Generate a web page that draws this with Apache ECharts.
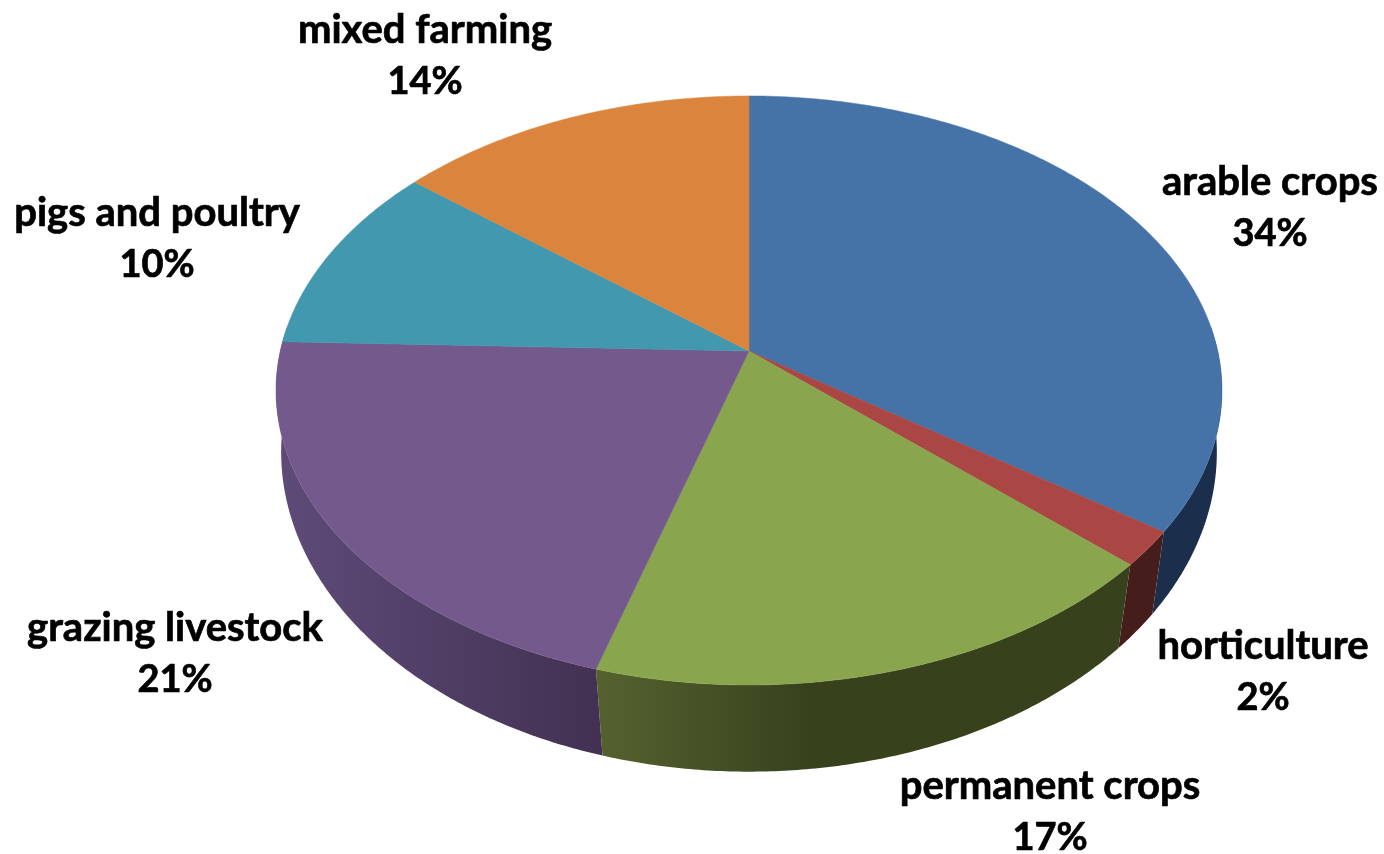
<!DOCTYPE html>
<html><head><meta charset="utf-8">
<style>html,body{margin:0;padding:0;background:#fff}#c{width:1384px;height:854px}</style>
<script src="https://cdn.jsdelivr.net/npm/echarts@6/dist/echarts.min.js"></script>
</head><body><div id="c"></div>
<script>
const categories = ['arable crops','horticulture','permanent crops','grazing livestock','pigs and poultry','mixed farming'];
const values = [34.1, 1.9, 17.5, 20.5, 10.2, 13.8];
const percentLabels = ['34%','2%','17%','21%','10%','14%'];

const topColors = ['#4572A7','#AA4643','#89A54E','#74598D','#4198AF','#DB843D'];
const wallColors = [['#1B2F4C','#1B2F4C'],['#451E1B','#451E1B'],['#55622F','#37421D'],['#5E4B79','#423152'],['#245868','#245868'],['#7F4C1F','#7F4C1F']];
const labelCentres = [[1270,208],[1263,672],[1050,812],[175,654],[157,239],[425,56]];

// Perspective views of the disc's upper and lower faces
const upper = {cx:749, cy:351, A:468.7, B:289.2, p:0.134};
const lower = {cx:749, cy:420, A:465.5, B:316.5, p:0.1};
const front = {from:85, to:275};

const total = values.reduce((a,b)=>a+b,0);
const edges = [0];
values.forEach(v=>edges.push(edges[edges.length-1]+v/total*360));

function project(face,deg){
  const t=deg*Math.PI/180,u=Math.sin(t),v=Math.cos(t),w=1+face.p*v;
  return [face.cx+face.A*u/w, face.cy-face.B*v/w];
}
function arc(face,a,b){
  const n=Math.max(2,Math.ceil(Math.abs(b-a)*2)),pts=[];
  for(let i=0;i<=n;i++)pts.push(project(face,a+(b-a)*i/n));
  return pts;
}
function wallFill(i){
  const c=wallColors[i];
  const stops=i===2
    ?[{offset:0,color:c[0]},{offset:0.4,color:c[1]},{offset:1,color:c[1]}]
    :[{offset:0,color:c[0]},{offset:1,color:c[1]}];
  return new echarts.graphic.LinearGradient(0,0,1,0,stops);
}
function renderWall(params){
  const i=params.dataIndex;
  const a=Math.max(edges[i],front.from),b=Math.min(edges[i+1],front.to);
  if(b<=a)return {type:'group',children:[]};
  return {type:'polygon',shape:{points:arc(upper,a,b).concat(arc(lower,b,a))},style:{fill:wallFill(i)}};
}
function renderTop(params){
  const i=params.dataIndex;
  const pts=[[upper.cx,upper.cy]].concat(arc(upper,edges[i],edges[i+1]));
  return {type:'polygon',shape:{points:pts},style:{fill:topColors[i],stroke:topColors[i],lineWidth:0.5}};
}
function renderLabel(params){
  const i=params.dataIndex;
  return {type:'text',style:{x:labelCentres[i][0],y:labelCentres[i][1],
    text:'{n|'+categories[i]+'}\n{p|'+percentLabels[i]+'}',align:'center',verticalAlign:'middle',
    fill:'#000',stroke:'#000',lineWidth:0.7,
    rich:{n:{font:'bold 40px Lato',lineHeight:52,fill:'#000',stroke:'#000',lineWidth:0.7},
          p:{font:'bold 38px Lato',lineHeight:52,fill:'#000',stroke:'#000',lineWidth:0.7}}}};
}
const rows=values.map((v,i)=>({name:categories[i],value:v}));
const chart=echarts.init(document.getElementById('c'),null,{renderer:'canvas'});
chart.setOption({
  animation:false,
  backgroundColor:'#fff',
  series:[
    {type:'custom',coordinateSystem:'none',z:1,silent:true,data:rows,renderItem:renderWall},
    {type:'custom',coordinateSystem:'none',z:2,silent:true,data:rows,renderItem:renderTop},
    {type:'custom',coordinateSystem:'none',z:3,silent:true,data:rows,renderItem:renderLabel}
  ]
});
</script></body></html>
